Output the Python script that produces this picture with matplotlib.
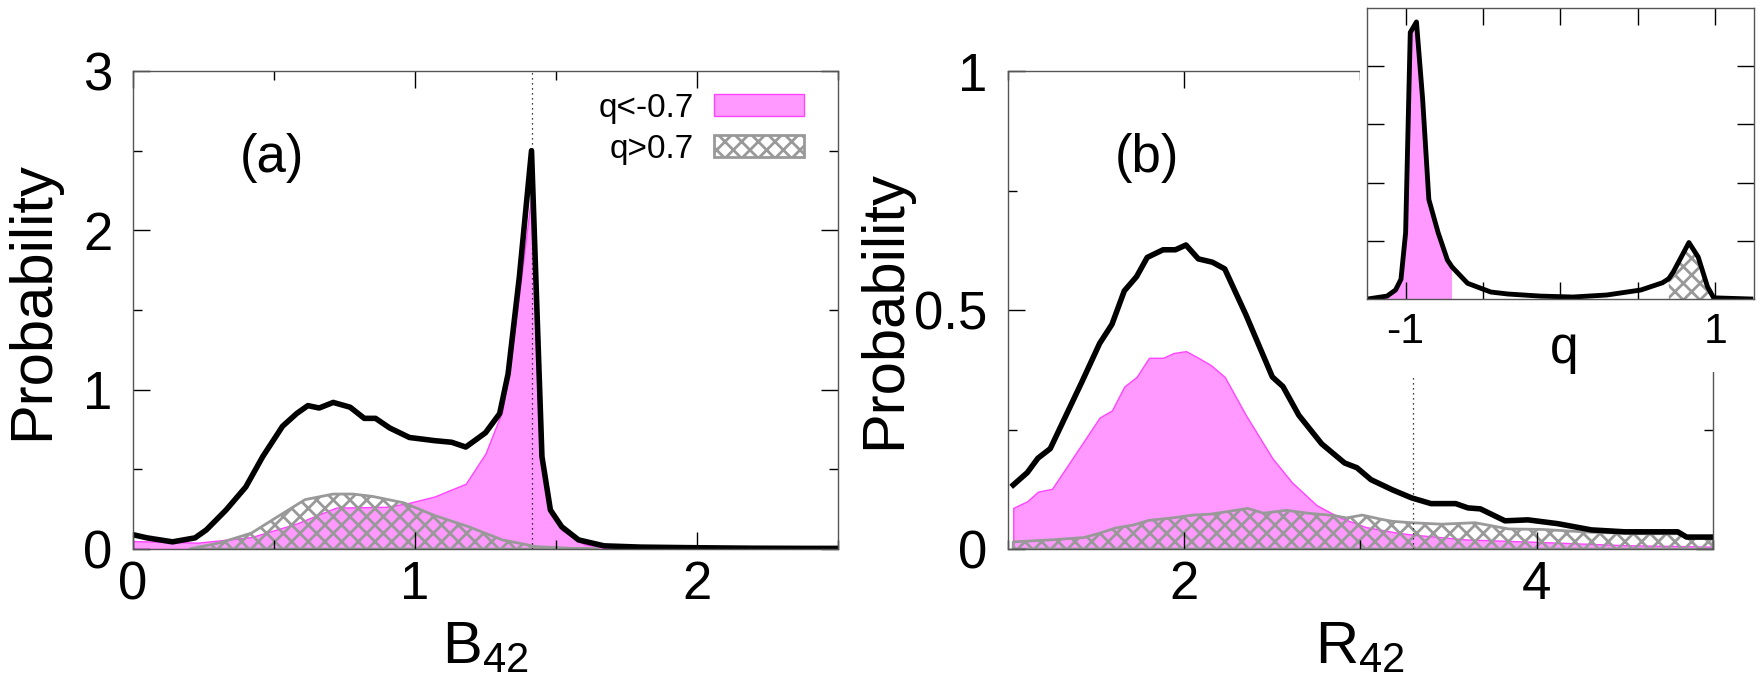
import numpy as np
import matplotlib
matplotlib.use("Agg")
import matplotlib.pyplot as plt
from matplotlib.patches import Rectangle
from matplotlib.ticker import MultipleLocator

plt.rcParams['font.family'] = ['Liberation Sans', 'DejaVu Sans']
plt.rcParams['mathtext.fontset'] = 'custom'
plt.rcParams['mathtext.rm'] = 'Liberation Sans'
plt.rcParams['hatch.linewidth'] = 2.0
plt.rcParams['hatch.color'] = '#999999'

# ---- panel (a): B42 distribution ----
a_x_tot = [0.0, 0.05, 0.14, 0.22, 0.26, 0.33, 0.40, 0.46, 0.53, 0.58, 0.62, 0.66, 0.71,
           0.77, 0.82, 0.86, 0.91, 0.98, 1.07, 1.13, 1.18, 1.25, 1.30, 1.33, 1.37, 1.413,
           1.45, 1.48, 1.52, 1.58, 1.67, 1.80, 2.0, 2.2, 2.4, 2.5]
a_y_tot = [0.09, 0.07, 0.045, 0.07, 0.12, 0.245, 0.39, 0.58, 0.77, 0.85, 0.90, 0.885, 0.92,
           0.89, 0.82, 0.82, 0.76, 0.70, 0.68, 0.67, 0.64, 0.73, 0.85, 1.10, 1.71, 2.50,
           0.58, 0.245, 0.14, 0.057, 0.02, 0.012, 0.008, 0.005, 0.004, 0.004]

a_x_lo = [0.0, 0.23, 0.42, 0.58, 0.72, 0.90, 0.98, 1.07, 1.18, 1.25, 1.31, 1.34, 1.37,
          1.413, 1.45, 1.48, 1.52, 1.60, 1.70]
a_y_lo = [0.05, 0.04, 0.075, 0.16, 0.26, 0.265, 0.29, 0.33, 0.41, 0.60, 0.87, 1.19, 1.61,
          2.23, 0.58, 0.245, 0.12, 0.03, 0.0]

a_x_hi = [0.2, 0.31, 0.42, 0.51, 0.61, 0.71, 0.78, 0.85, 0.96, 1.07, 1.19, 1.31, 1.43, 1.55, 1.65]
a_y_hi = [0.0, 0.04, 0.10, 0.20, 0.31, 0.345, 0.345, 0.33, 0.29, 0.21, 0.14, 0.057, 0.015, 0.005, 0.0]

a_mark = 1.414

# ---- panel (b): R42 distribution ----
b_x_tot = [1.03, 1.11, 1.17, 1.24, 1.33, 1.42, 1.52, 1.59, 1.66, 1.73, 1.79, 1.88, 1.95,
           2.01, 2.08, 2.16, 2.23, 2.35, 2.50, 2.56, 2.65, 2.78, 2.91, 2.98, 3.06, 3.18,
           3.29, 3.40, 3.54, 3.61, 3.68, 3.82, 3.95, 4.12, 4.31, 4.50, 4.68, 4.80, 4.85, 5.0]
b_y_tot = [0.134, 0.16, 0.19, 0.21, 0.28, 0.35, 0.43, 0.47, 0.54, 0.57, 0.61, 0.626, 0.626,
           0.636, 0.607, 0.60, 0.586, 0.49, 0.36, 0.34, 0.28, 0.22, 0.18, 0.17, 0.145, 0.124,
           0.107, 0.095, 0.095, 0.086, 0.084, 0.059, 0.061, 0.053, 0.04, 0.036, 0.036, 0.036,
           0.025, 0.025]

b_x_lo = [1.03, 1.11, 1.17, 1.25, 1.33, 1.52, 1.59, 1.66, 1.73, 1.80, 1.88, 1.94, 2.01,
          2.08, 2.15, 2.23, 2.35, 2.50, 2.61, 2.75, 2.82, 2.89, 3.03, 3.21, 3.3, 3.6, 4.0,
          4.5, 5.0]
b_y_lo = [0.086, 0.10, 0.12, 0.126, 0.17, 0.275, 0.29, 0.34, 0.36, 0.40, 0.40, 0.41, 0.414,
          0.40, 0.385, 0.36, 0.28, 0.19, 0.14, 0.092, 0.078, 0.065, 0.046, 0.034, 0.03, 0.02,
          0.015, 0.008, 0.005]

b_x_hi = [1.03, 1.24, 1.43, 1.52, 1.61, 1.71, 1.80, 1.93, 2.05, 2.15, 2.24, 2.36, 2.45,
          2.58, 2.70, 2.85, 2.92, 3.01, 3.12, 3.18, 3.29, 3.46, 3.65, 3.84, 4.03, 4.31,
          4.59, 4.80, 4.88, 5.0]
b_y_hi = [0.015, 0.019, 0.024, 0.033, 0.044, 0.05, 0.06, 0.065, 0.071, 0.073, 0.078, 0.085,
          0.075, 0.081, 0.075, 0.07, 0.065, 0.071, 0.062, 0.058, 0.055, 0.052, 0.055, 0.042,
          0.041, 0.035, 0.032, 0.032, 0.023, 0.023]

b_mark = 3.3
b_mark_top = 0.365

# ---- inset: P(q) ----
q_x = [-1.245, -1.12, -1.065, -1.03, -1.00, -0.97, -0.93, -0.89, -0.85, -0.79, -0.73, -0.70,
       -0.60, -0.45, -0.34, -0.13, 0.08, 0.30, 0.52, 0.66, 0.70, 0.73, 0.83, 0.89, 0.95,
       0.99, 1.23]
q_y = [0.0, 0.05, 0.155, 0.34, 1.14, 4.58, 4.76, 3.43, 1.71, 1.14, 0.67, 0.55,
       0.27, 0.12, 0.086, 0.05, 0.034, 0.069, 0.155, 0.28, 0.35, 0.47, 0.97, 0.72, 0.21,
       0.02, 0.0]
q_cut = 0.7

lbl_lo = "q<-0.7"
lbl_hi = "q>0.7"

PINK = '#ff99ff'
MAGENTA = '#ff44ff'
GRAY = '#999999'
FRAME = '#555555'

TICK_FS = 38
LABEL_FS = 43


def style_axes(ax, fs=TICK_FS):
    for s in ax.spines.values():
        s.set_color(FRAME)
        s.set_linewidth(1.0)
    ax.tick_params(which='both', direction='in', top=True, right=True,
                   labelsize=fs, width=1.0, color='black')
    ax.tick_params(which='major', length=12)
    ax.tick_params(which='minor', length=6.5)
    ax.tick_params(axis='x', pad=8)
    ax.tick_params(axis='y', pad=15)


fig = plt.figure(figsize=(17.64, 6.88), dpi=100)
ax_a = fig.add_axes([0.0754, 0.2020, 0.3997, 0.6948])
ax_b = fig.add_axes([0.5714, 0.2020, 0.3997, 0.6948])
ax_in = fig.add_axes([0.7749, 0.5654, 0.2194, 0.4230], zorder=2)

# panel (a)
h_lo = ax_a.fill_between(a_x_lo, a_y_lo, 0, facecolor=PINK, edgecolor=MAGENTA, lw=1.0, label=lbl_lo)
h_hi = ax_a.fill_between(a_x_hi, a_y_hi, 0, facecolor='none', edgecolor=GRAY, hatch='xx', lw=2.0, label=lbl_hi)
ax_a.axvline(a_mark, color='black', lw=0.9, ls=(0, (1, 3)))
ax_a.plot(a_x_tot, a_y_tot, color='black', lw=4.0)
ax_a.set_xlim(0, 2.5)
ax_a.set_ylim(0, 3)
ax_a.xaxis.set_major_locator(MultipleLocator(1))
ax_a.xaxis.set_minor_locator(MultipleLocator(0.5))
ax_a.yaxis.set_major_locator(MultipleLocator(1))
ax_a.yaxis.set_minor_locator(MultipleLocator(0.5))
style_axes(ax_a)
ax_a.set_xlabel(r'B$_\mathregular{42}$', fontsize=LABEL_FS)
ax_a.set_ylabel('Probability', fontsize=LABEL_FS)
ax_a.xaxis.set_label_coords(0.50, -0.148)
ax_a.yaxis.set_label_coords(-0.104, 0.52)
ax_a.text(0.197, 0.818, '(a)', transform=ax_a.transAxes, fontsize=38, ha='center', va='center')
ax_a.legend([h_lo, h_hi], [lbl_lo, lbl_hi], loc='upper right', bbox_to_anchor=(0.952, 0.955),
            frameon=False, markerfirst=False, fontsize=24, handlelength=2.7, handleheight=0.62,
            labelspacing=0.3, borderpad=0, borderaxespad=0, handletextpad=0.6)

# panel (b)
ax_b.fill_between(b_x_lo, b_y_lo, 0, facecolor=PINK, edgecolor=MAGENTA, lw=1.0)
ax_b.fill_between(b_x_hi, b_y_hi, 0, facecolor='none', edgecolor=GRAY, hatch='xx', lw=2.0)
ax_b.plot([b_mark, b_mark], [0, b_mark_top], color='black', lw=0.9, ls=(0, (1, 3)))
ax_b.plot(b_x_tot, b_y_tot, color='black', lw=4.0)
ax_b.set_xlim(1, 5)
ax_b.set_ylim(0, 1)
ax_b.xaxis.set_major_locator(MultipleLocator(2))
ax_b.xaxis.set_minor_locator(MultipleLocator(1))
ax_b.yaxis.set_minor_locator(MultipleLocator(0.25))
ax_b.set_yticks([0, 0.5, 1])
ax_b.set_yticklabels(['0', '0.5', '1'])
style_axes(ax_b)
ax_b.set_xlabel(r'R$_\mathregular{42}$', fontsize=LABEL_FS)
ax_b.set_ylabel('Probability', fontsize=LABEL_FS)
ax_b.xaxis.set_label_coords(0.50, -0.148)
ax_b.yaxis.set_label_coords(-0.136, 0.5)
ax_b.text(0.197, 0.818, '(b)', transform=ax_b.transAxes, fontsize=38, ha='center', va='center')

# white area cleared for the inset
fig.add_artist(Rectangle((1360 / 1764, 1 - 372 / 688), 1, 1, transform=fig.transFigure,
                         facecolor='white', edgecolor='none', zorder=1))

# inset
qx = np.array(q_x)
qy = np.array(q_y)
ax_in.fill_between(qx, qy, 0, where=qx <= -q_cut, facecolor=PINK, edgecolor='none', lw=0)
ax_in.fill_between(qx, qy, 0, where=qx >= q_cut, facecolor='none', edgecolor=GRAY, hatch='xx', lw=0)
ax_in.plot(qx, qy, color='black', lw=3.5)
ax_in.set_xlim(-1.25, 1.25)
ax_in.set_ylim(0, 5)
ax_in.set_xticks([-1, -0.5, 0, 0.5, 1])
ax_in.set_xticklabels(['-1', '', '', '', '1'])
ax_in.set_yticks([1, 2, 3, 4])
ax_in.set_yticklabels([])
style_axes(ax_in, fs=31)
ax_in.tick_params(axis='x', pad=9)
ax_in.set_xlabel('q', fontsize=37)
ax_in.xaxis.set_label_coords(0.51, -0.09)

fig.savefig('out.png', dpi=100, facecolor='white')
